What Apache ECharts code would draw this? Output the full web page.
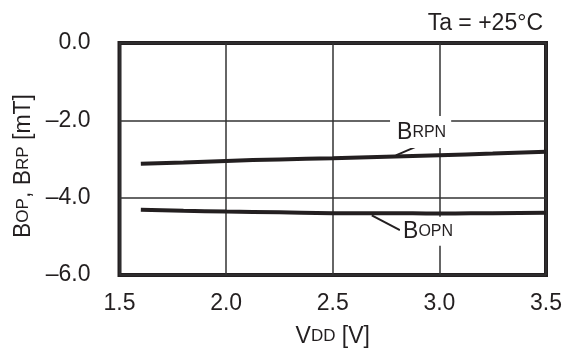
<!DOCTYPE html>
<html><head><meta charset="utf-8">
<script src="https://cdn.jsdelivr.net/npm/echarts@6/dist/echarts.min.js"></script>
<style>html,body{margin:0;padding:0;background:#fff}#c{width:566px;height:349px}</style>
</head><body><div id="c"></div>
<script>
var vdd = [1.6, 1.8, 2.0, 2.25, 2.5, 2.75, 3.0, 3.25, 3.5];
var brpn = [-3.12, -3.09, -3.05, -3.01, -2.98, -2.94, -2.90, -2.86, -2.81];
var bopn = [-4.31, -4.34, -4.36, -4.38, -4.40, -4.40, -4.41, -4.40, -4.39];
var xTicks = [1.5, 2.0, 2.5, 3.0, 3.5];
var yTicks = [0, -2, -4, -6];

var F = 'Liberation Sans, Arial, Helvetica, sans-serif';
var C = '#231f20';
function pairs(xs, ys){ return xs.map(function(x,i){return [x, ys[i]];}); }
var big = {fontSize: 23, fontFamily: F, color: C};
var sm = {fontSize: 17, fontFamily: F, color: C};

var chart = echarts.init(document.getElementById('c'), null, {renderer:'canvas'});
chart.setOption({
  animation: false,
  backgroundColor: '#fff',
  title: {text: 'Ta = +25°C', right: 18, top: 7,
    textStyle: {fontSize: 23, fontWeight: 'normal', fontFamily: F, color: C}},
  grid: {left: 119.5, right: 20, top: 43, bottom: 74, show: true, containLabel: false,
    outerBoundsMode: 'none',
    borderColor: C, borderWidth: 4, backgroundColor: 'transparent'},
  xAxis: {type: 'value', min: xTicks[0], max: xTicks[xTicks.length-1], interval: 0.5,
    axisLine: {show: false}, axisTick: {show: false},
    splitLine: {show: true, lineStyle: {color: '#333', width: 1.5}},
    axisLabel: {margin: 17, fontSize: 23, fontFamily: F, color: C,
      formatter: function(v){ return v.toFixed(1); }},
    name: '{b|V}{s|DD}{b| [V]}', nameLocation: 'middle', nameGap: 50,
    nameTextStyle: {rich: {b: big, s: sm}}},
  yAxis: {type: 'value', min: yTicks[yTicks.length-1], max: yTicks[0], interval: 2,
    axisLine: {show: false}, axisTick: {show: false},
    splitLine: {show: true, lineStyle: {color: '#333', width: 1.5}},
    axisLabel: {margin: 29, fontSize: 23, fontFamily: F, color: C,
      formatter: function(v){ return (v < 0 ? '\u2013' : '') + Math.abs(v).toFixed(1); }},
    name: '{b|B}{s|OP}{b|, B}{s|RP}{b| [mT]}', nameLocation: 'middle', nameGap: 82,
    nameTextStyle: {padding: [0, 14, 0, 0], rich: {b: big, s: sm}}},
  series: [
    {type: 'line', data: pairs(vdd, brpn), smooth: true, symbol: 'none',
      lineStyle: {color: C, width: 4}, z: 3,
      markLine: {silent: true, symbol: 'none', label: {show: false},
        lineStyle: {color: C, width: 2, type: 'solid'},
        data: [[{coord: [2.796, -2.905]}, {coord: [2.916, -2.62]}]]},
      markPoint: {symbol: 'rect', symbolSize: 0,
        data: [{coord: [2.912, -2.30]}],
        label: {show: true, position: 'inside', backgroundColor: '#fff',
          padding: [5, 5, 4, 7],
          formatter: '{b|B}{s|RPN}', rich: {b: {fontSize: 23, fontFamily: F, color: C}, s: {fontSize: 16, fontFamily: F, color: C}}}}},
    {type: 'line', data: pairs(vdd, bopn), smooth: true, symbol: 'none',
      lineStyle: {color: C, width: 4}, z: 3,
      markLine: {silent: true, symbol: 'none', label: {show: false},
        lineStyle: {color: C, width: 2, type: 'solid'},
        data: [[{coord: [2.683, -4.456]}, {coord: [2.815, -4.84]}]]},
      markPoint: {symbol: 'rect', symbolSize: 0,
        data: [{coord: [2.947, -4.87]}],
        label: {show: true, position: 'inside', backgroundColor: '#fff',
          padding: [3, 3, 3, 3],
          formatter: '{b|B}{s|OPN}', rich: {b: {fontSize: 23, fontFamily: F, color: C}, s: {fontSize: 16, fontFamily: F, color: C}}}}}
  ]
});
</script></body></html>
